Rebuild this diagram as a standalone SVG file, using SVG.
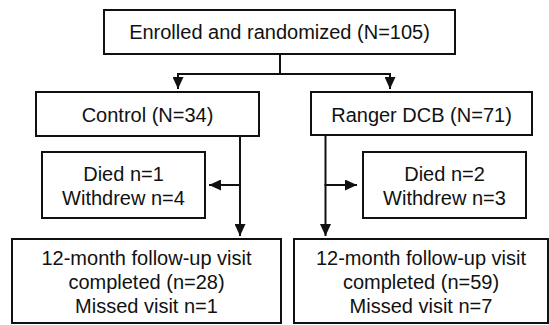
<svg xmlns="http://www.w3.org/2000/svg" width="549" height="325" viewBox="0 0 549 325">
  <style>
    .box { fill: #ffffff; stroke: #111111; stroke-width: 2; }
    .t { font-family: "Liberation Sans", Arial, sans-serif; font-size: 20px; fill: #111111; text-anchor: middle; }
    .c { fill: none; stroke: #111111; stroke-width: 2; }
  </style>
  <defs>
    <marker id="ah" viewBox="0 0 12 11" refX="12" refY="5.5" markerWidth="12" markerHeight="11" markerUnits="userSpaceOnUse" orient="auto">
      <path d="M0,0 L12,5.5 L0,11 Z" fill="#111111"/>
    </marker>
  </defs>
  <rect width="549" height="325" fill="#ffffff"/>

  <g id="connectors">
    <path class="c" d="M280,54 V74"/>
    <path class="c" d="M177,74 H391"/>
    <path class="c" d="M178,73 V89" marker-end="url(#ah)"/>
    <path class="c" d="M390,73 V89" marker-end="url(#ah)"/>
    <path class="c" d="M240,136 V236" marker-end="url(#ah)"/>
    <path class="c" d="M241,185 H209" marker-end="url(#ah)"/>
    <path class="c" d="M325.5,135 V236" marker-end="url(#ah)"/>
    <path class="c" d="M324.5,185 H357" marker-end="url(#ah)"/>
  </g>

  <g id="enrolled">
    <rect class="box" x="104" y="10" width="351" height="44"/>
    <text class="t" x="279.5" y="39">Enrolled and randomized (N=105)</text>
  </g>

  <g id="control">
    <rect class="box" x="36" y="92" width="223" height="44"/>
    <text class="t" x="147.5" y="122">Control (N=34)</text>
  </g>

  <g id="ranger">
    <rect class="box" x="311" y="92" width="221" height="43"/>
    <text class="t" x="421.5" y="122">Ranger DCB (N=71)</text>
  </g>

  <g id="control-loss">
    <rect class="box" x="42" y="152" width="163" height="66"/>
    <text class="t" x="123.5" y="181">Died n=1</text>
    <text class="t" x="123.5" y="205">Withdrew n=4</text>
  </g>

  <g id="ranger-loss">
    <rect class="box" x="363" y="152" width="163" height="66"/>
    <text class="t" x="444.5" y="181">Died n=2</text>
    <text class="t" x="444.5" y="205">Withdrew n=3</text>
  </g>

  <g id="control-followup">
    <rect class="box" x="12" y="239" width="269" height="84"/>
    <text class="t" x="146.5" y="265">12-month follow-up visit</text>
    <text class="t" x="146.5" y="289">completed (n=28)</text>
    <text class="t" x="146.5" y="313">Missed visit n=1</text>
  </g>

  <g id="ranger-followup">
    <rect class="box" x="294" y="239" width="254" height="84"/>
    <text class="t" x="421" y="265">12-month follow-up visit</text>
    <text class="t" x="421" y="289">completed (n=59)</text>
    <text class="t" x="421" y="313">Missed visit n=7</text>
  </g>
</svg>
